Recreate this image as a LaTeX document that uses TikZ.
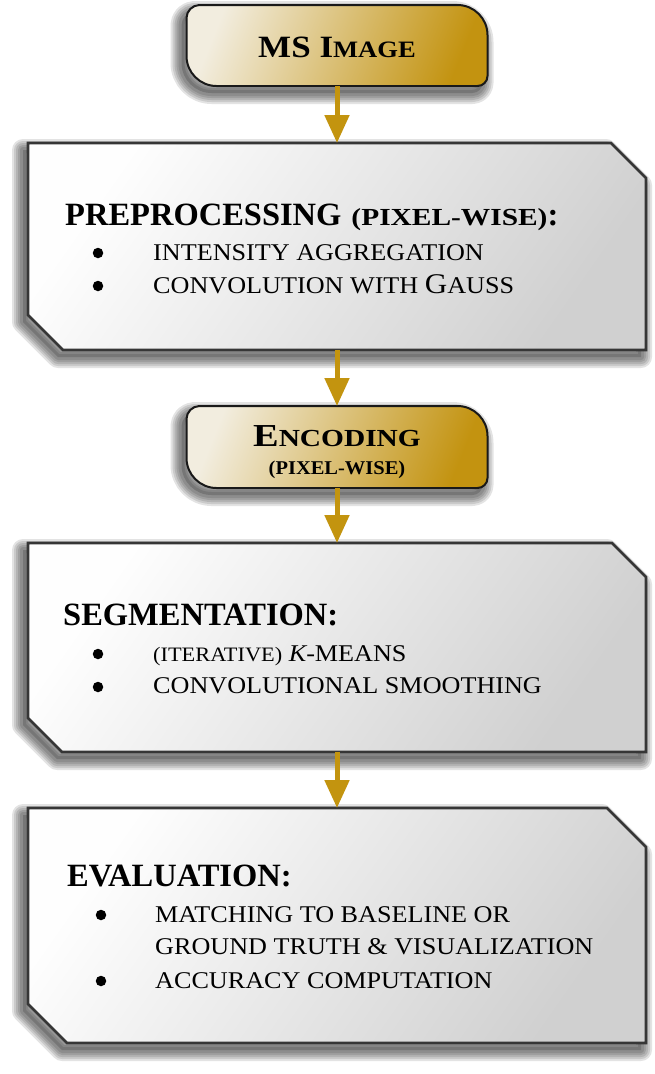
\documentclass[tikz,border=0pt]{standalone}
\usepackage{fontspec}
\usepackage{graphicx}
\setmainfont{Liberation Serif}
\newfontfamily\bodyf{Liberation Serif}[FakeStretch=1.09]
\usetikzlibrary{arrows.meta,calc}
\definecolor{goldA}{HTML}{F2EDDF}
\definecolor{goldB}{HTML}{C39310}
\definecolor{grayA}{HTML}{FEFEFE}
\definecolor{grayB}{HTML}{D0D0D0}
\definecolor{edgegray}{HTML}{363636}
\definecolor{arrowgold}{HTML}{C3940F}
\tikzset{
  frame/.style={rectangle, inner sep=0pt, outer sep=0pt, draw=none},
  shadowcore/.style={fill=black, fill opacity=0.16, draw=none},
  shadowring/.style={draw=black, draw opacity=0.11, line join=round, fill=none},
  grayshape/.style={draw=edgegray, line width=2.8pt, line join=miter, top color=grayA, bottom color=grayB, shading angle=55},
  goldshape/.style={draw=black!90, line width=2pt, top color=goldA, bottom color=goldB, shading angle=68},
  flow/.style={draw=arrowgold, line width=5pt, -{Triangle[width=24pt,length=28pt]}},
  bul/.style={circle, fill=black, inner sep=0pt, minimum size=10.5pt},
  head/.style={anchor=base west, inner sep=0pt, font=\bfseries\fontsize{32.5}{36}\selectfont},
  item/.style={anchor=base west, inner sep=0pt, font=\bodyf\fontsize{24}{28}\selectfont},
  ctext/.style={anchor=base, inner sep=0pt},
}
\newcommand\goldpath[1]{($(#1.north west)+(0,13)$) .. controls ($(#1.north west)+(0,6)$) and ($(#1.north west)+(6,0)$) .. ($(#1.north west)+(13,0)$)
   -- ($(#1.north east)+(-30,0)$) .. controls ($(#1.north east)+(-13.5,0)$) and ($(#1.north east)+(0,13.5)$) .. ($(#1.north east)+(0,30)$)
   -- ($(#1.south east)+(0,-10)$) .. controls ($(#1.south east)+(0,-4.5)$) and ($(#1.south east)+(-4.5,0)$) .. ($(#1.south east)+(-10,0)$)
   -- ($(#1.south west)+(30,0)$) .. controls ($(#1.south west)+(13.5,0)$) and ($(#1.south west)+(0,-13.5)$) .. ($(#1.south west)+(0,-30)$)
   -- cycle}
\newcommand\graypath[2]{(#1.north west) -- ($(#1.north east)+(-#2,0)$) -- ($(#1.north east)+(0,#2)$)
   -- (#1.south east) -- ($(#1.south west)+(#2,0)$) -- ($(#1.south west)+(0,-#2)$) -- cycle}
\newcommand\goldshapeof[1]{%
  \begin{scope}[transform canvas={xshift=-5pt,yshift=-7pt}]
    \path[shadowcore] \goldpath{#1};
    \foreach \w in {22,18,14,10,6} {\path[shadowring, line width=\w pt] \goldpath{#1};}
  \end{scope}
  \path[goldshape] \goldpath{#1};}
\newcommand\grayshapeof[2]{%
  \begin{scope}[transform canvas={xshift=-5pt,yshift=-7pt}]
    \path[shadowcore] \graypath{#1}{#2};
    \foreach \w in {22,18,14,10,6} {\path[shadowring, line width=\w pt] \graypath{#1}{#2};}
  \end{scope}
  \path[grayshape] \graypath{#1}{#2};}
\begin{document}
\begin{tikzpicture}[x=1pt,y=-1pt]
\useasboundingbox[fill=white] (0,0) rectangle (654,1074);
% frames
\node[frame, minimum width=301pt, minimum height=81pt] (ms) at (337,45.5) {};
\node[frame, minimum width=618pt, minimum height=207pt] (pre) at (337,246.5) {};
\node[frame, minimum width=301pt, minimum height=82pt] (enc) at (337,447) {};
\node[frame, minimum width=618pt, minimum height=209pt] (seg) at (337,647.5) {};
\node[frame, minimum width=618pt, minimum height=235pt] (eva) at (337,925.5) {};
% shapes
\goldshapeof{ms}
\grayshapeof{pre}{35}
\goldshapeof{enc}
\grayshapeof{seg}{34}
\grayshapeof{eva}{39}
% texts
\node[ctext] (mst) at (337,57) {\scalebox{1.13}[1]{\bfseries\fontsize{31}{32}\selectfont MS I\fontsize{23.5}{24}\selectfont MAGE}};

\node[head] (preh) at (65,225) {PREPROCESSING\hspace{10pt}\scalebox{1.2}[1]{\fontsize{24.5}{26}\selectfont (PIXEL-WISE)}:};
\node[bul] (preb1) at (98,253) {};
\node[bul] (preb2) at (98,286) {};
\node[item] (prei1) at (153,260) {INTENSITY AGGREGATION};
\node[item] (prei2) at (153,293) {CONVOLUTION WITH {\fontsize{28.5}{30}\selectfont G}AUSS};

\node[ctext] (enct1) at (337,446) {\scalebox{1.2}[1]{\bfseries\fontsize{32}{32}\selectfont E\fontsize{24.5}{26}\selectfont NCODING}};
\node[ctext] (enct2) at (337,474) {\scalebox{1.05}[1]{\bfseries\fontsize{19.5}{20}\selectfont (PIXEL-WISE)}};

\node[head] (segh) at (63,625) {SEGMENTATION:};
\node[bul] (segb1) at (98,654) {};
\node[bul] (segb2) at (98,687) {};
\node[item] (segi1) at (153,661) {{\fontsize{20.5}{22}\selectfont (ITERATIVE)} {\itshape K}-MEANS};
\node[item] (segi2) at (153,693) {CONVOLUTIONAL SMOOTHING};

\node[head] (evah) at (67,886) {EVALUATION:};
\node[bul] (evab1) at (101,915) {};
\node[bul] (evab2) at (101,981) {};
\node[item] (evai1) at (155,922) {MATCHING TO BASELINE OR};
\node[item] (evai2) at (155,954) {GROUND TRUTH \& VISUALIZATION};
\node[item] (evai3) at (155,988) {ACCURACY COMPUTATION};
% connectors
\draw[flow] (ms) -- (pre);
\draw[flow] (pre) -- (enc);
\draw[flow] (enc) -- (seg);
\draw[flow] (seg) -- (eva);
\end{tikzpicture}
\end{document}
